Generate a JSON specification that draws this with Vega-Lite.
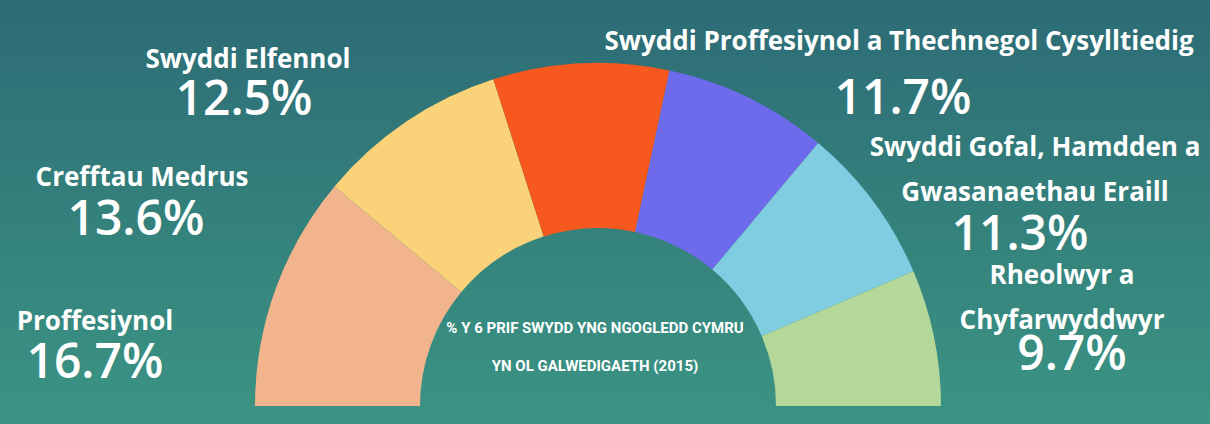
{
  "$schema": "https://vega.github.io/schema/vega-lite/v6.json",
  "width": 1196,
  "height": 406,
  "autosize": "none",
  "padding": {"left": 0, "top": 0, "right": 14, "bottom": 18},
  "background": "#3A9182",
  "config": {"view": {"stroke": null}},
  "datasets": {
    "jobs": [
      {"cat": "Proffesiynol", "name": "Proffesiynol", "value": 16.7, "pct": "16.7%"},
      {"cat": "Crefftau Medrus", "name": "Crefftau Medrus", "value": 13.6, "pct": "13.6%"},
      {"cat": "Swyddi Elfennol", "name": "Swyddi Elfennol", "value": 12.5, "pct": "12.5%"},
      {"cat": "Swyddi Proffesiynol a Thechnegol Cysylltiedig", "name": "Swyddi Proffesiynol a Thechnegol Cysylltiedig", "value": 11.7, "pct": "11.7%"},
      {"cat": "Swyddi Gofal, Hamdden a Gwasanaethau Eraill", "name": "Swyddi Gofal, Hamdden a\nGwasanaethau Eraill", "value": 11.3, "pct": "11.3%"},
      {"cat": "Rheolwyr a Chyfarwyddwyr", "name": "Rheolwyr a\nChyfarwyddwyr", "value": 9.7, "pct": "9.7%"}
    ],
    "center": [
      {"t": "% Y 6 PRIF SWYDD YNG NGOGLEDD CYMRU\nYN OL GALWEDIGAETH (2015)"}
    ],
    "bg": [{"panel": "background"}]
  },
  "layer": [
    {
      "data": {"name": "bg"},
      "mark": {
        "type": "rect",
        "x": 0,
        "y": 0,
        "x2": {"expr": "width + 14"},
        "y2": {"expr": "height + 18"},
        "color": {
          "gradient": "linear",
          "x1": 0, "y1": 0, "x2": 0, "y2": 1,
          "stops": [
            {"offset": 0, "color": "#2D6B76"},
            {"offset": 0.45, "color": "#337E7B"},
            {"offset": 1, "color": "#3B9483"}
          ]
        }
      },
      "encoding": {}
    },
    {
      "data": {"name": "jobs"},
      "mark": {"type": "arc", "y": "height", "outerRadius": 343, "innerRadius": 178},
      "encoding": {
        "theta": {"field": "value", "type": "quantitative", "stack": true, "scale": {"range": [-1.5708, 1.5708]}},
        "order": {"field": "value", "type": "quantitative", "sort": "descending"},
        "color": {
          "field": "cat", "type": "nominal", "legend": null,
          "scale": {
            "domain": ["Proffesiynol", "Crefftau Medrus", "Swyddi Elfennol", "Swyddi Proffesiynol a Thechnegol Cysylltiedig", "Swyddi Gofal, Hamdden a Gwasanaethau Eraill", "Rheolwyr a Chyfarwyddwyr"],
            "range": ["#F1B48C", "#F9D27A", "#F6581E", "#6D6BEC", "#80CCE0", "#B3D899"]
          }
        }
      }
    },
    {
      "data": {"name": "jobs"},
      "transform": [{"window": [{"op": "rank", "as": "rank"}], "sort": [{"field": "value", "order": "descending"}]}],
      "mark": {"type": "text", "y": "height", "baseline": "middle", "align": "center", "fontSize": 26, "fontWeight": "bold", "font": "Open Sans", "color": "#FFFFFF", "lineBreak": "\n", "lineHeight": 45},
      "encoding": {
        "theta": {"field": "rank", "type": "quantitative", "scale": {"domain": [1, 2, 3, 4, 5, 6], "range": [-1.4054, -1.1071, -0.7912, 0.6910, 1.0374, 1.2976]}},
        "radius": {"field": "rank", "type": "quantitative", "scale": {"type": "linear", "zero": false, "domain": [1, 2, 3, 4, 5, 6], "range": [510, 509.8, 492.2, 472.3, 507.5, 481.9]}},
        "text": {"field": "name", "type": "nominal"}
      }
    },
    {
      "data": {"name": "jobs"},
      "transform": [{"window": [{"op": "rank", "as": "rank"}], "sort": [{"field": "value", "order": "descending"}]}],
      "mark": {"type": "text", "y": "height", "baseline": "middle", "align": "center", "fontSize": 48, "fontWeight": 600, "font": "Open Sans", "color": "#FFFFFF"},
      "encoding": {
        "theta": {"field": "rank", "type": "quantitative", "scale": {"domain": [1, 2, 3, 4, 5, 6], "range": [-1.4875, -1.1900, -0.8596, 0.7838, 1.1879, 1.4657]}},
        "radius": {"field": "rank", "type": "quantitative", "scale": {"type": "linear", "zero": false, "domain": [1, 2, 3, 4, 5, 6], "range": [504.8, 497.7, 467.3, 432.0, 455.0, 476.6]}},
        "text": {"field": "pct", "type": "nominal"}
      }
    },
    {
      "data": {"name": "center"},
      "mark": {"type": "text", "y": "height", "baseline": "middle", "align": "center", "dy": -78, "dx": -3, "fontSize": 15, "fontWeight": "bold", "font": "Roboto", "color": "#FFFFFF", "lineBreak": "\n", "lineHeight": 38},
      "encoding": {
        "text": {"field": "t", "type": "nominal"}
      }
    }
  ],
  "resolve": {"scale": {"theta": "independent", "radius": "independent"}}
}
